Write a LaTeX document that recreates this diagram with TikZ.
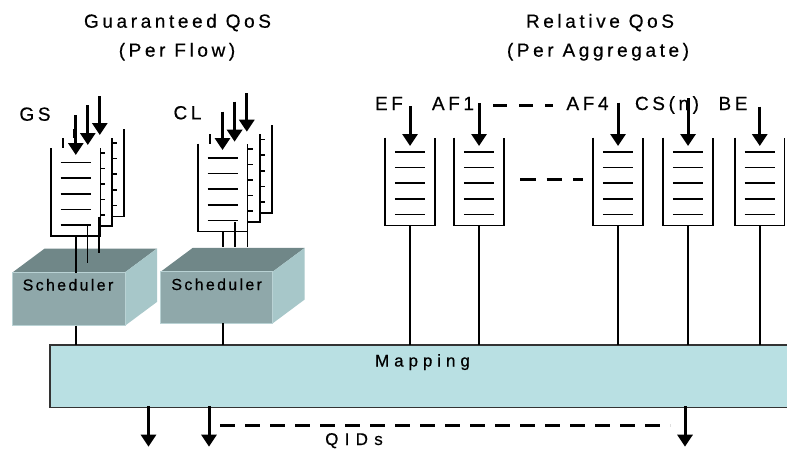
\documentclass[tikz,border=0pt]{standalone}
\usepackage{fontspec}
\setmainfont{Liberation Sans}
\newfontfamily\trA[LetterSpace=19,FakeBold=0.5]{Liberation Sans}
\newfontfamily\trB[LetterSpace=14.5,FakeBold=0.5]{Liberation Sans}
\newfontfamily\trC[LetterSpace=29,FakeBold=0.5]{Liberation Sans}
\newfontfamily\trD[LetterSpace=37,FakeBold=0.5]{Liberation Sans}
\usetikzlibrary{arrows.meta,calc}
\definecolor{schFront}{RGB}{143,168,170}
\definecolor{schTop}{RGB}{112,135,136}
\definecolor{schRight}{RGB}{167,199,201}
\definecolor{mapFill}{RGB}{185,224,227}
\tikzset{
  qwall/.style={line width=1.9pt,black},
  qline/.style={line width=1.6pt,black},
  conn/.style={line width=1.7pt,black},
  bigarrow/.style={line width=3pt,-{Triangle[width=15pt,length=12pt]}},
  dashthick/.style={line width=3pt,dash pattern=on 13.5pt off 12.5pt},
  dashmid/.style={line width=3pt,dash pattern=on 15.5pt off 11pt},
  dashqid/.style={line width=3pt,dash pattern=on 15pt off 10pt},
  titlefont/.style={font=\trA\fontsize{19}{22}\selectfont},
  lblfont/.style={font=\trA\fontsize{19}{22}\selectfont},
  schfont/.style={font=\trB\fontsize{16}{19}\selectfont},
  mapbox/.style={draw=black!80,line width=1.5pt,fill=mapFill,inner sep=0pt,outer sep=0pt},
}
\newcommand{\queuebox}[4]{%
  \fill[white] (#1,#2) rectangle (#1+49.5,#2+88);
  \draw[qwall] (#1,#2) -- (#1,#2+88) -- (#1+49.5,#2+88) -- (#1+49.5,#2);
  \foreach \k in {0,...,4}{\draw[qline] (#1+9.5,#2+14.5+15.6*\k) -- (#1+9.5+#4,#2+14.5+15.6*\k);}
  \coordinate (#3) at (#1+24.75,#2+88);
}
\newcommand{\schedbox}[5]{% x1 y1 x2 y2 (front face), name
  \fill[schTop] (#1,#2) -- (#1+32,#2-23.8) -- (#3+32,#2-23.8) -- (#3,#2) -- cycle;
  \fill[schRight] (#3,#2) -- (#3+32,#2-23.8) -- (#3+32,#4-23.8) -- (#3,#4) -- cycle;
  \fill[schFront] (#1,#2) rectangle (#3,#4);
  \draw[schRight!80!white,line width=0.6pt] (#1,#2) rectangle (#3,#4);
  \coordinate (#5) at (#1,#2);
}
\begin{document}
\begin{tikzpicture}[x=1pt,y=-1pt]
\useasboundingbox (0,0) rectangle (787,450);
\clip (0,0) rectangle (787,450);
\fill[white] (0,0) rectangle (787,450);

% titles
\node[titlefont,anchor=base] (tg) at (177.5,27.7) {Guaranteed QoS};
\node[titlefont,anchor=base] (tgf) at (177,56.7) {(Per Flow)};
\node[titlefont,anchor=base] (tr) at (600,27.7) {Relative QoS};
\node[titlefont,anchor=base] (tra) at (598,56.7) {(Per Aggregate)};

% labels
\node[lblfont,anchor=base] (lGS) at (35,120.7) {GS};
\node[lblfont,anchor=base] (lCL) at (187.5,119.3) {CL};
\node[lblfont,anchor=base] (lEF) at (389,110) {EF};
\node[lblfont,anchor=base] (lAF1) at (453,110) {AF1};
\node[lblfont,anchor=base] (lAF4) at (587.5,110) {AF4};
\node[lblfont,anchor=base] (lCS) at (667,110) {CS(n)};
\node[lblfont,anchor=base] (lBE) at (733,110) {BE};
\draw[dashthick] (493,105) -- (553,105);

% mapping box
\node[mapbox,anchor=north west,minimum width=800pt,minimum height=62.7pt] (map) at (50,345) {};
\node[font=\trC\fontsize{17}{20}\selectfont,anchor=base] (maptxt) at (422.5,366.5) {Mapping};

% schedulers
\schedbox{12.7}{272.3}{125}{325.7}{schGS}
\schedbox{160.7}{271.7}{272.7}{323.3}{schCL}
\node[schfont,anchor=base] (tGS) at (68,290.5) {Scheduler};
\node[schfont,anchor=base] (tCL) at (216.7,290) {Scheduler};

% GS queues (back to front)
\queuebox{74.2}{128.5}{gs3}{33}
\queuebox{62.6}{138.2}{gs2}{33}
\queuebox{51}{148}{gs1}{30.5}
% CL queues
\queuebox{222.6}{125}{cl3}{33}
\queuebox{210.3}{134.3}{cl2}{33}
\queuebox{198}{143.5}{cl1}{30.5}
% relative queues
\queuebox{385.3}{137.5}{qEF}{30.5}
\queuebox{454.3}{137.5}{qAF1}{30.5}
\queuebox{593.3}{137.5}{qAF4}{30.5}
\queuebox{663.3}{137.5}{qCS}{30.5}
\queuebox{735}{137.5}{qBE}{30.5}
\draw[dashmid] (520,179) -- (583,179);

% per-flow outputs into schedulers
\draw[conn] (gs1) -- ++(0,36.5);
\draw[conn] (gs2) -- ++(0,36.3);
\draw[conn] (gs3) -- ++(0,36.3);
\draw[conn] (cl1) -- (cl1 |- 0,246.7);
\draw[conn] (cl2) -- (cl2 |- 0,246.7);
\draw[conn] (cl3) -- (cl3 |- 0,246.7);

% scheduler outputs to mapping
\coordinate (gsout) at (75.8,325.7);
\coordinate (clout) at (222.75,323.3);
\draw[conn] (gsout) -- (gsout |- map.north);
\draw[conn] (clout) -- (clout |- map.north);
\foreach \q in {qEF,qAF1,qAF4,qCS,qBE}{\draw[conn] (\q) -- (\q |- map.north);}

% input arrows
\draw[bigarrow] (75.8,115) -- (75.8,155);
\draw[bigarrow] (87.8,105) -- (87.8,145);
\draw[bigarrow] (99.8,96) -- (99.8,135);
\draw[bigarrow] (222.5,111.7) -- (222.5,150);
\draw[bigarrow] (234.6,101.7) -- (234.6,141.7);
\draw[bigarrow] (246.8,93.3) -- (246.8,131.7);
\draw[bigarrow] (qEF |- 0,106) -- (qEF |- 0,146);
\draw[bigarrow] (qAF1 |- 0,103.3) -- (qAF1 |- 0,146);
\draw[bigarrow] (qAF4 |- 0,102.7) -- (qAF4 |- 0,146);
\draw[bigarrow] (qCS |- 0,98.3) -- (qCS |- 0,146);
\draw[bigarrow] (qBE |- 0,106.7) -- (qBE |- 0,146);

% QID outputs
\coordinate (o1) at (148.5,406);
\coordinate (o2) at (209,406);
\coordinate (o3) at (685,406);
\draw[bigarrow] (o1) -- ++(0,40.7);
\draw[bigarrow] (o2) -- ++(0,40.7);
\draw[bigarrow] (o3) -- ++(0,40.7);
\draw[dashqid] (220,425) -- (670,425);
\node[font=\trD\fontsize{17}{20}\selectfont,anchor=base] (qid) at (354,445) {QIDs};
\end{tikzpicture}
\end{document}
